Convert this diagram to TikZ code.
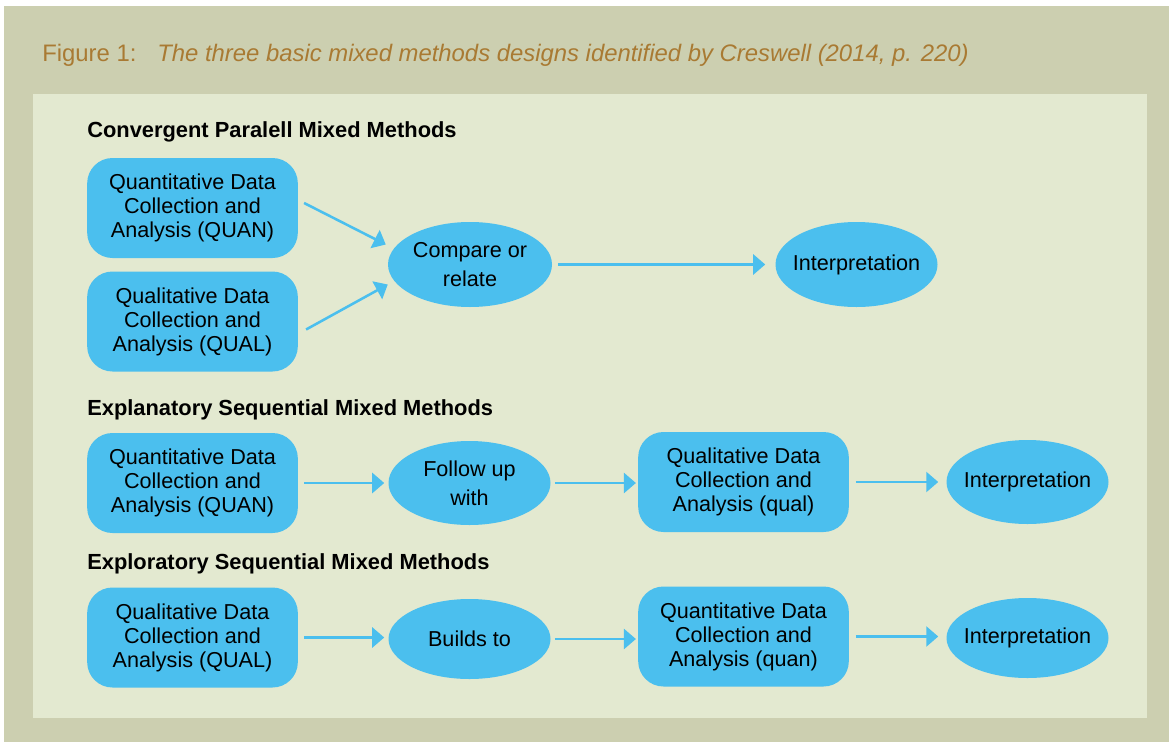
\documentclass[tikz,border=0pt]{standalone}
\usepackage{fontspec}
\setmainfont{Liberation Sans}
\usetikzlibrary{shapes.geometric,arrows.meta,calc}
\definecolor{outerbg}{HTML}{CCCFB0}
\definecolor{innerbg}{HTML}{E3E9D0}
\definecolor{boxblue}{HTML}{4BBFEE}
\definecolor{titlecol}{HTML}{A97A33}
\tikzset{
  databox/.style={rectangle, rounded corners=19pt, fill=boxblue, draw=none,
    minimum width=158pt, minimum height=75pt, align=center, inner sep=0pt,
    font=\fontsize{16.2}{18}\selectfont},
  oval/.style={ellipse, fill=boxblue, draw=none, minimum width=121.5pt,
    minimum height=63pt, align=center, inner xsep=-8pt, inner ysep=-8pt,
    font=\fontsize{16.2}{22}\selectfont},
  arr/.style={draw=boxblue, line width=1.9pt, -{Triangle[length=9pt,width=15pt]}},
  heading/.style={anchor=base west, inner sep=0pt, font=\fontsize{16.4}{18}\selectfont\bfseries},
  titletext/.style={anchor=base west, inner sep=0pt, text=titlecol, font=\fontsize{17.9}{20}\selectfont}
}
\begin{document}
\begin{tikzpicture}[x=0.75pt,y=-0.75pt]
\useasboundingbox (0,0) rectangle (1169,742);
\fill[white] (0,0) rectangle (1169,742);
\fill[outerbg] (4,6) rectangle (1169,742);
\fill[innerbg] (33,94) rectangle (1147,718);

\node[titletext] (fig) at (42,61) {Figure 1:};
\node[titletext] (cap) at (157,61) {\itshape The three basic mixed methods designs identified by Creswell (2014, p. 220)};

% Row 1
\node[heading] (h1) at (87,137) {Convergent Paralell Mixed Methods};
\node[databox] (quan1) at (192.5,208) {Quantitative Data\\Collection and\\Analysis (QUAN)};
\node[databox] (qual1) at (192.5,321.5) {Qualitative Data\\Collection and\\Analysis (QUAL)};
\node[oval, minimum width=123pt, minimum height=63.75pt] (cmp) at (470,264.5) {Compare or\\relate};
\node[oval, minimum height=63.75pt] (int1) at (856.5,264.5) {Interpretation};
\draw[arr] ([shift={(6,-5)}]quan1.east) -- ([shift={(-2,-20)}]cmp.west);
\draw[arr] ([shift={(8,8)}]qual1.east) -- ([shift={(0,20)}]cmp.west);
\draw[arr, shorten <=4.5pt, shorten >=7.5pt] (cmp.east) -- (cmp.east -| int1.west);

% Row 2
\node[heading] (h2) at (87,415) {Explanatory Sequential Mixed Methods};
\node[databox] (quan2) at (192.5,483) {Quantitative Data\\Collection and\\Analysis (QUAN)};
\node[oval] (follow) at (469.5,483) {Follow up\\with};
\node[databox] (qual2) at (743.5,482) {Qualitative Data\\Collection and\\Analysis (qual)};
\node[oval] (int2) at (1027.5,482) {Interpretation};
\draw[arr, shorten <=4.5pt, shorten >=3pt] (quan2.east) -- (quan2.east -| follow.west);
\draw[arr, shorten <=3pt, shorten >=1.5pt] (follow.east) -- (follow.east -| qual2.west);
\draw[arr, shorten <=5pt, shorten >=6pt] (qual2.east) -- (qual2.east -| int2.west);

% Row 3
\node[heading] (h3) at (87,569) {Exploratory Sequential Mixed Methods};
\node[databox] (qual3) at (192.5,637.5) {Qualitative Data\\Collection and\\Analysis (QUAL)};
\node[oval, minimum height=60pt] (builds) at (469.5,639) {Builds to};
\node[databox] (quan3) at (743.5,636.5) {Quantitative Data\\Collection and\\Analysis (quan)};
\node[oval, minimum height=60pt] (int3) at (1027.5,638) {Interpretation};
\draw[arr, shorten <=4.5pt, shorten >=3pt] (qual3.east) -- (qual3.east -| builds.west);
\draw[arr, shorten <=3pt, shorten >=1.5pt] (builds.east) -- (builds.east -| quan3.west);
\draw[arr, shorten <=5pt, shorten >=6pt] (quan3.east) -- (quan3.east -| int3.west);
\end{tikzpicture}
\end{document}
